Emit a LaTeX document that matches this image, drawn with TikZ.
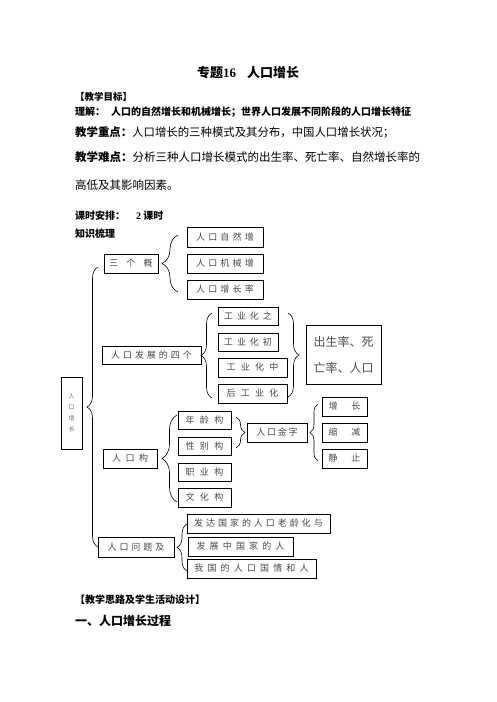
\documentclass[tikz,border=0pt]{standalone}
\usepackage{fontspec}
\setmainfont{Noto Sans CJK SC}
\newfontfamily\latinserif{Liberation Serif}
\usetikzlibrary{decorations.pathreplacing}
\newcommand\lsp[2]{{\addfontfeatures{LetterSpace=#1}#2}}
\begin{document}
\begin{tikzpicture}[x=1pt,y=-1pt,
  box/.style={draw, line width=0.8pt, inner sep=0pt, font=\fontsize{9}{10}\selectfont, text=black!72},
  hd/.style={anchor=west, inner sep=0pt},
  br/.style={decorate, decoration={brace, amplitude=#1}, line width=0.6pt},
]
\useasboundingbox (0,0) rectangle (496,702);

% header text
\node[hd, font=\bfseries\fontsize{13}{14}\selectfont] (title) at (197,73) {专题{\latinserif 16}\hspace{11pt}人口增长};
\node[hd, font=\bfseries\fontsize{9.5}{11}\selectfont] (goal) at (75,97) {【教学目标】};
\node[hd, font=\bfseries\fontsize{10}{12}\selectfont] (und) at (75,112) {理解：\hspace{6pt}人口的自然增长和机械增长；世界人口发展不同阶段的人口增长特征};
\node[hd, font=\fontsize{11.4}{13}\selectfont] (key) at (75,132) {{\bfseries 教学重点：}人口增长的三种模式及其分布，中国人口增长状况；};
\node[hd, font=\fontsize{11.5}{13}\selectfont] (dif) at (75,157) {{\bfseries 教学难点：}分析三种人口增长模式的出生率、死亡率、自然增长率的};
\node[hd, font=\fontsize{11.5}{13}\selectfont] (dif2) at (75,185) {高低及其影响因素。};
\node[hd, font=\bfseries\fontsize{10}{12}\selectfont] (time) at (75,216) {课时安排：\hspace{11pt}{\latinserif 2} 课时};
\node[hd, font=\bfseries\fontsize{10}{12}\selectfont] (zs) at (75,234) {知识梳理};
\node[hd, font=\bfseries\fontsize{10}{12}\selectfont] (sl) at (75,600) {【教学思路及学生活动设计】};
\node[hd, font=\bfseries\fontsize{12}{14}\selectfont] (gc) at (75,621) {一、人口增长过程};

% left box
\node[box, minimum width=21pt, minimum height=72pt, align=center, font=\fontsize{6}{11}\selectfont, text=black!55] (root) at (71.5,413) {人\\口\\增\\长};

% group 1
\node[box, minimum width=54pt, minimum height=19pt] (sgn) at (131,263.5) {\lsp{89}{三个概}};
\node[box, minimum width=76pt, minimum height=20pt] (zr) at (225,237) {\lsp{36}{人口自然增}};
\node[box, minimum width=76pt, minimum height=19pt] (jx) at (225,263.5) {\lsp{36}{人口机械增}};
\node[box, minimum width=76pt, minimum height=19pt] (zzl) at (225,289.5) {\lsp{36}{人口增长率}};

% group 2
\node[box, minimum width=99pt, minimum height=18pt] (sjd) at (151.5,355) {\lsp{33}{人口发展的四个}};
\node[box, minimum width=60pt, minimum height=18pt] (g1) at (248,316) {\lsp{44}{工业化之}};
\node[box, minimum width=60pt, minimum height=18pt] (g2) at (248,342) {\lsp{44}{工业化初}};
\node[box, minimum width=69pt, minimum height=19pt] (g3) at (252.5,367.5) {\lsp{59}{工业化中}};
\node[box, minimum width=69pt, minimum height=19pt] (g4) at (252.5,393.5) {\lsp{59}{后工业化}};
\node[box, minimum width=75pt, minimum height=59pt, align=left, font=\fontsize{12}{26}\selectfont, text=black!70] (csl) at (343.5,354.5) {出生率、死\\亡率、人口};

% group 3
\node[box, minimum width=54pt, minimum height=19pt] (rkg) at (130,458.5) {\lsp{50}{人口构}};
\node[box, minimum width=53pt, minimum height=18pt] (nl) at (204.5,420) {\lsp{61}{年龄构}};
\node[box, minimum width=53pt, minimum height=18pt] (xb) at (204.5,446) {\lsp{61}{性别构}};
\node[box, minimum width=53pt, minimum height=18pt] (zy) at (204.5,472) {\lsp{61}{职业构}};
\node[box, minimum width=53pt, minimum height=19pt] (wh) at (204.5,497.5) {\lsp{61}{文化构}};
\node[box, minimum width=60pt, minimum height=19pt] (jzt) at (277,432.5) {\lsp{19}{人口金字}};
\node[box, minimum width=45pt, minimum height=19pt] (zz) at (344.5,406.5) {\lsp{155}{增长}};
\node[box, minimum width=45pt, minimum height=19pt] (sj) at (344.5,432.5) {\lsp{155}{缩减}};
\node[box, minimum width=45pt, minimum height=19pt] (jz) at (344.5,458.5) {\lsp{155}{静止}};

% group 4
\node[box, minimum width=76pt, minimum height=20pt] (wt) at (136,547) {\lsp{33}{人口问题及}};
\node[box, minimum width=143pt, minimum height=19pt] (fd) at (258.5,523.5) {\lsp{33}{发达国家的人口老龄化与}};
\node[box, minimum width=105pt, minimum height=19pt] (fz) at (240.5,546.5) {\lsp{46}{发展中国家的人}};
\node[box, minimum width=129pt, minimum height=19pt] (wg) at (251.5,568.5) {\lsp{46}{我国的人口国情和人}};

% brace end points
\coordinate (bigB) at (98,547);
\coordinate (bigT) at (98,267);
\coordinate (aB) at (178,292);
\coordinate (aT) at (178,235);
\coordinate (bB) at (212,398);
\coordinate (bT) at (212,313);
\coordinate (cT) at (288,313);
\coordinate (cB) at (288,397);
\coordinate (dB) at (177,502);
\coordinate (dT) at (177,415);
\coordinate (eT) at (236,417);
\coordinate (eB) at (236,448);
\coordinate (fB) at (318,461);
\coordinate (fT) at (318,404);
\coordinate (gB) at (187,571);
\coordinate (gT) at (187,524);

% braces
\draw[br=11] (bigB) -- (bigT);
\draw[br=16] (aB) -- (aT);
\draw[br=11] (bB) -- (bT);
\draw[br=11] (cT) -- (cB);
\draw[br=15] (dB) -- (dT);
\draw[br=9] (eT) -- (eB);
\draw[br=8] (fB) -- (fT);
\draw[br=10] (gB) -- (gT);
\end{tikzpicture}
\end{document}
